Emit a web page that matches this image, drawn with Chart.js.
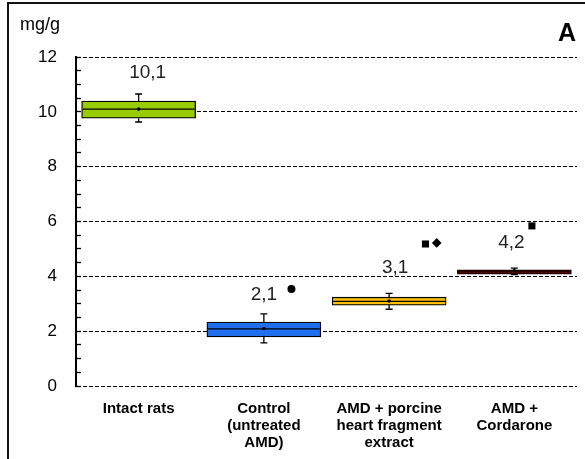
<!DOCTYPE html>
<html><head><meta charset="utf-8">
<script src="https://cdn.jsdelivr.net/npm/chart.js@4/dist/chart.umd.min.js"></script>
<style>html,body{margin:0;padding:0;background:#fff;}canvas{display:block;}</style>
</head><body>
<canvas id="c" width="585" height="459"></canvas>
<script>
// ---- data ----
const categories = ['Intact rats', 'Control (untreated AMD)', 'AMD + porcine heart fragment extract', 'AMD + Cordarone'];
const tickLabels = [['Intact rats'], ['Control', '(untreated', 'AMD)'], ['AMD + porcine', 'heart fragment', 'extract'], ['AMD +', 'Cordarone']];
const q1 = [9.77, 1.79, 2.95, 4.08];
const q3 = [10.39, 2.33, 3.24, 4.24];
const medians = [10.10, 2.08, 3.09, 4.16];
const whiskerLow = [9.63, 1.57, 2.80, 4.06];
const whiskerHigh = [10.65, 2.63, 3.38, 4.30];
const means = [10.1, 2.1, 3.1, 4.2];
const outlierGroup = [2, 3, 3, 4];
const outlierValues = [3.54, 5.18, 5.22, 5.84];
const yTicksMajor = [0, 2, 4, 6, 8, 10, 12];
const yUnit = 'mg/g';
const panelLetter = 'A';

// ---- style ----
const FONT = '"Liberation Sans", Arial, sans-serif';
const STYLE = {
  boxColors: ['#99CC00', '#1F6FEF', '#FFC000', '#990000'],
  outlierShift: [0.22, 0.29, 0.38, 0.14],
  outlierStyle: ['circle', 'rect', 'rectRot', 'rect'],
  outlierRadius: [4, 5, 4.8, 5],
  labelDx: [9, 0, 6, -3],
  labelDy: [21, 19, 26, 25]
};

const boxParts = {
  id: 'boxParts',
  afterDatasetDraw(chart, args) {
    if (args.meta.type !== 'bar') return;
    const ctx = chart.ctx, y = chart.scales.y;
    ctx.save();
    ctx.strokeStyle = '#000';
    args.meta.data.forEach((bar, i) => {
      const half = bar.width / 2;
      ctx.lineWidth = 1.2;
      const ym = y.getPixelForValue(medians[i]);
      ctx.beginPath(); ctx.moveTo(bar.x - half + 1, ym); ctx.lineTo(bar.x + half - 1, ym); ctx.stroke();
      ctx.lineWidth = 1.3;
      const yq3 = y.getPixelForValue(q3[i]), yq1 = y.getPixelForValue(q1[i]);
      const yh = y.getPixelForValue(whiskerHigh[i]), yl = y.getPixelForValue(whiskerLow[i]);
      ctx.beginPath();
      ctx.moveTo(bar.x, yq3); ctx.lineTo(bar.x, yh);
      ctx.moveTo(bar.x - 3.5, yh); ctx.lineTo(bar.x + 3.5, yh);
      ctx.moveTo(bar.x, yq1); ctx.lineTo(bar.x, yl);
      ctx.moveTo(bar.x - 3.5, yl); ctx.lineTo(bar.x + 3.5, yl);
      ctx.stroke();
    });
    ctx.restore();
  },
  afterDatasetsDraw(chart) {
    const ctx = chart.ctx, x = chart.scales.x, y = chart.scales.y;
    ctx.save();
    ctx.fillStyle = '#222';
    ctx.font = '19px ' + FONT;
    ctx.textAlign = 'center';
    ctx.textBaseline = 'middle';
    means.forEach((m, i) => {
      ctx.fillText(m.toFixed(1).replace('.', ','), x.getPixelForValue(i + 1) + STYLE.labelDx[i], y.getPixelForValue(whiskerHigh[i]) - STYLE.labelDy[i]);
    });
    ctx.restore();
  },
  afterDraw(chart) {
    const ctx = chart.ctx;
    ctx.save();
    ctx.strokeStyle = '#111';
    ctx.lineWidth = 2;
    ctx.beginPath();
    ctx.moveTo(8, 459); ctx.lineTo(8, 3); ctx.lineTo(585, 3);
    ctx.stroke();
    ctx.fillStyle = '#000';
    ctx.textBaseline = 'alphabetic';
    ctx.font = '18px ' + FONT;
    ctx.textAlign = 'left';
    ctx.fillText(yUnit, 20, 30);
    ctx.font = 'bold 25px ' + FONT;
    ctx.textAlign = 'right';
    ctx.fillText(panelLetter, 576, 41);
    ctx.restore();
  }
};

new Chart(document.getElementById('c'), {
  type: 'bar',
  data: {
    datasets: [
      {
        type: 'scatter', label: 'mean',
        data: means.map((m, i) => ({ x: i + 1, y: m })),
        pointRadius: 1.8, pointBackgroundColor: '#000', pointBorderWidth: 0, order: 1
      },
      {
        type: 'scatter', label: 'outliers',
        data: outlierValues.map((v, k) => ({ x: outlierGroup[k] + STYLE.outlierShift[k], y: v })),
        pointStyle: STYLE.outlierStyle, pointRadius: STYLE.outlierRadius,
        pointBackgroundColor: '#000', pointBorderColor: '#000', pointBorderWidth: 0, order: 1
      },
      {
        type: 'bar', label: 'box',
        data: q1.map((a, i) => ({ x: i + 1, y: [a, q3[i]] })),
        backgroundColor: STYLE.boxColors, borderColor: '#000', borderWidth: 1.3,
        borderSkipped: false, barThickness: 114, grouped: false, order: 2
      }
    ]
  },
  options: {
    responsive: false, animation: false,
    plugins: { legend: { display: false }, tooltip: { enabled: false } },
    layout: { padding: { left: 10, top: 57, right: 8, bottom: 0 } },
    scales: {
      x: {
        type: 'linear', min: 0.5, max: 4.5, offset: false,
        grid: { display: false, drawTicks: false, offset: false }, border: { display: false },
        afterBuildTicks: s => { s.ticks = categories.map((c, i) => ({ value: i + 1 })); },
        ticks: {
          callback: v => tickLabels[Math.round(v) - 1],
          font: { family: FONT, size: 15, weight: 'bold', lineHeight: 1.14 },
          color: '#000', padding: 14, maxRotation: 0, autoSkip: false
        },
        afterFit: s => { s.height = 73; }
      },
      y: {
        min: 0, max: 12,
        ticks: {
          stepSize: 0.5, autoSkip: false,
          callback: v => (yTicksMajor.includes(v) ? String(v) : ''),
          font: { family: FONT, size: 17 }, color: '#000', padding: 24
        },
        grid: {
          color: c => (c.tick && yTicksMajor.includes(c.tick.value)) ? '#000' : 'rgba(0,0,0,0)',
          tickColor: '#000', tickLength: -5, lineWidth: 1, tickWidth: 1.3
        },
        border: { display: true, color: '#000', width: 2, dash: [4, 2] },
        afterFit: s => { s.width = 66; }
      }
    }
  },
  plugins: [boxParts]
});
</script>
</body></html>
